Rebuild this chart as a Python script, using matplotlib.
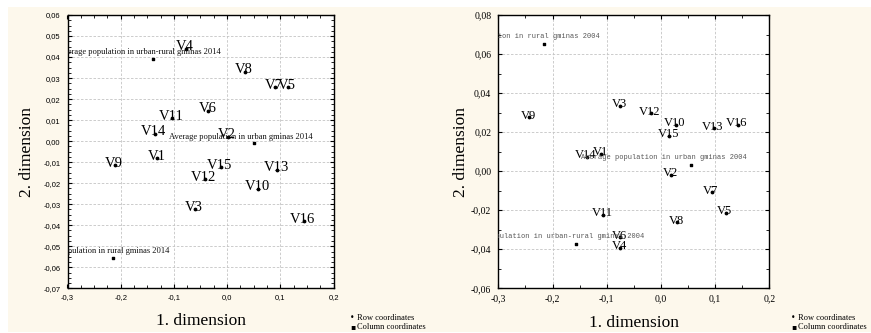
import matplotlib
matplotlib.use("Agg")
import matplotlib.pyplot as plt
from matplotlib.ticker import MultipleLocator, AutoMinorLocator, FuncFormatter
from matplotlib.patches import Rectangle

# row points V1..V16 and column points (average population)
v_labels = ["V%d" % i for i in range(1, 17)]

x_2014 = [-0.131, 0.001, -0.060, -0.077, 0.115, -0.035, 0.090, 0.034,
          -0.211, 0.058, -0.103, -0.042, 0.094, -0.136, -0.012, 0.144]
y_2014 = [-0.0081, 0.0020, -0.0325, 0.0440, 0.0256, 0.0145, 0.0256, 0.0330,
          -0.0115, -0.0226, 0.0110, -0.0181, -0.0136, 0.0035, -0.0125, -0.0382]

col_labels_2014 = ["Average population in urban gminas 2014",
                   "Average population in urban-rural gminas 2014",
                   "Average population in rural gminas 2014"]
col_x_2014 = [0.051, -0.139, -0.214]
col_y_2014 = [-0.0011, 0.0390, -0.0555]

x_2004 = [-0.1105, 0.0186, -0.0755, -0.0755, 0.120, -0.0755, 0.094, 0.030,
          -0.243, 0.027, -0.107, -0.019, 0.098, -0.137, 0.0155, 0.1417]
y_2004 = [0.0089, -0.0018, 0.0335, -0.0393, -0.0214, -0.0339, -0.0107, -0.0262,
          0.0277, 0.0237, -0.0223, 0.0297, 0.0220, 0.0075, 0.0181, 0.0237]

col_labels_2004 = ["Average population in urban gminas 2004",
                   "Average population in urban-rural gminas 2004",
                   "Average population in rural gminas 2004"]
col_x_2004 = [0.055, -0.157, -0.216]
col_y_2004 = [0.0033, -0.0371, 0.0652]


def comma(dec):
    def f(v, pos):
        s = ("%." + str(dec) + "f") % v
        if float(s) == 0:
            s = s.lstrip("-")
        return s.replace(".", ",")
    return FuncFormatter(f)


fig = plt.figure(figsize=(8.71, 3.33), dpi=100, facecolor="white")
fig.patches.append(Rectangle((8 / 871, 1.5 / 333), 1, 324.5 / 333, transform=fig.transFigure,
                             facecolor="#fdf8ec", edgecolor="none", zorder=-10))

serif = "Liberation Serif"


def panel(rect, xs, ys, cx, cy, clabels, ylim, ymaj, yminor_n, xminor_n,
          vsize, tick_font, tick_size, long_font, long_size, long_color, long_dx,
          ylabelpad, legend_x):
    ax = fig.add_axes(rect)
    ax.set_facecolor("white")
    ax.set_xlim(-0.3, 0.2)
    ax.set_ylim(*ylim)
    ax.xaxis.set_major_locator(MultipleLocator(0.1))
    ax.yaxis.set_major_locator(MultipleLocator(ymaj))
    ax.xaxis.set_minor_locator(AutoMinorLocator(xminor_n))
    ax.yaxis.set_minor_locator(AutoMinorLocator(yminor_n))
    ax.xaxis.set_major_formatter(comma(1))
    ax.yaxis.set_major_formatter(comma(2))
    ax.tick_params(which="both", direction="in", top=True, right=True, color="black")
    ax.tick_params(which="major", length=3, width=0.8)
    ax.tick_params(which="minor", length=2, width=0.6)
    ax.tick_params(axis="y", pad=5)
    ax.tick_params(axis="x", pad=4)
    for lab in ax.get_xticklabels() + ax.get_yticklabels():
        lab.set_fontfamily(tick_font)
        lab.set_fontsize(tick_size)
    for s in ax.spines.values():
        s.set_linewidth(1.0)
        s.set_color("black")
    ax.grid(True, which="major", color="#c4c4c4", linestyle=(0, (3, 2)), linewidth=0.6)
    ax.set_axisbelow(True)

    ax.scatter(xs, ys, s=3, marker="o", color="black", zorder=3)
    ax.scatter(cx, cy, s=3, marker="s", color="black", zorder=3)
    for lab, x, y in zip(v_labels, xs, ys):
        ax.annotate(lab, (x, y), xytext=(-0.7, -1.1), textcoords="offset points",
                    ha="center", va="baseline", fontsize=vsize, family=serif,
                    annotation_clip=False, clip_on=True)
    for lab, x, y in zip(clabels, cx, cy):
        ax.annotate(lab, (x, y), xytext=(long_dx, 5), textcoords="offset points",
                    ha="center", va="center", fontsize=long_size, family=long_font,
                    color=long_color, clip_on=True)

    ax.set_xlabel("1. dimension", family=serif, fontsize=12.5, labelpad=9)
    ax.set_ylabel("2. dimension", family=serif, fontsize=12.5, labelpad=ylabelpad)

    fig.text(legend_x, 1 - 318 / 333, "\u2022", family="DejaVu Sans", fontsize=5.5, va="center")
    fig.text(legend_x, 1 - 327 / 333, "\u25aa", family="DejaVu Sans", fontsize=5.5, va="center")
    fig.text(legend_x + 7 / 871, 1 - 318 / 333, "Row coordinates", family=serif,
             fontsize=6, va="center")
    fig.text(legend_x + 7 / 871, 1 - 327 / 333, "Column coordinates", family=serif,
             fontsize=6, va="center")
    return ax


ax1 = panel([67.5 / 871, 1 - 288.3 / 333, 266 / 871, 273.3 / 333],
            x_2014, y_2014, col_x_2014, col_y_2014, col_labels_2014,
            (-0.07, 0.06), 0.01, 4, 4,
            10.5, "Liberation Sans", 5.5, serif, 6.1, "#111111", -10, 6, 350 / 871)

ax2 = panel([498.3 / 871, 1 - 288.3 / 333, 271 / 871, 273.3 / 333],
            x_2004, y_2004, col_x_2004, col_y_2004, col_labels_2004,
            (-0.06, 0.08), 0.02, 2, 2,
            9, serif, 7, "Liberation Mono", 5, "#555555", -19.5, 1, 791 / 871)

fig.savefig("out.png", dpi=100, facecolor=fig.get_facecolor())
